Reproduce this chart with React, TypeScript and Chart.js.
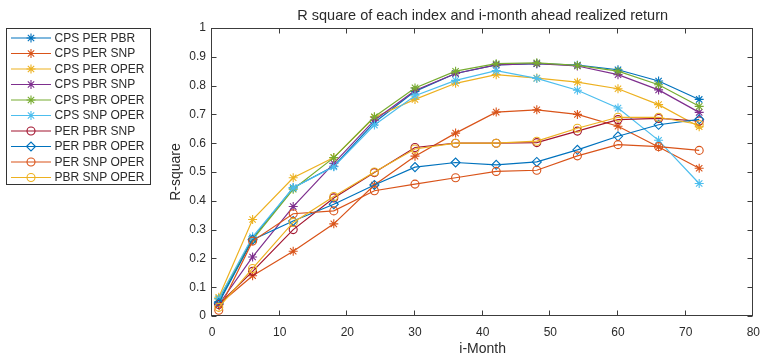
import { useEffect, useRef } from "react";
import { Chart, registerables } from "chart.js";
import { drawPoint } from "chart.js/helpers";

Chart.register(...registerables);

// Forecast horizon (months ahead)
const months = [1, 6, 12, 18, 24, 30, 36, 42, 48, 54, 60, 66, 72];

const seriesLabels = [
  "CPS PER PBR",
  "CPS PER SNP",
  "CPS PER OPER",
  "CPS PBR SNP",
  "CPS PBR OPER",
  "CPS SNP OPER",
  "PER PBR SNP",
  "PER PBR OPER",
  "PER SNP OPER",
  "PBR SNP OPER",
];

const cpsPerPbr = [0.05, 0.27, 0.445, 0.52, 0.672, 0.78, 0.842, 0.872, 0.876, 0.871, 0.855, 0.816, 0.752];
const cpsPerSnp = [0.04, 0.14, 0.225, 0.32, 0.455, 0.555, 0.635, 0.708, 0.716, 0.7, 0.659, 0.587, 0.513];
const cpsPerOper = [0.065, 0.335, 0.48, 0.55, 0.69, 0.752, 0.808, 0.838, 0.826, 0.812, 0.789, 0.734, 0.657];
const cpsPbrSnp = [0.04, 0.205, 0.38, 0.53, 0.68, 0.783, 0.842, 0.872, 0.876, 0.868, 0.838, 0.785, 0.707];
const cpsPbrOper = [0.06, 0.265, 0.44, 0.55, 0.692, 0.792, 0.85, 0.876, 0.879, 0.87, 0.85, 0.803, 0.728];
const cpsSnpOper = [0.06, 0.275, 0.445, 0.518, 0.663, 0.765, 0.818, 0.852, 0.825, 0.784, 0.722, 0.61, 0.46];
const perPbrSnp = [0.04, 0.155, 0.3, 0.41, 0.498, 0.585, 0.6, 0.6, 0.602, 0.642, 0.682, 0.686, 0.677];
const perPbrOper = [0.045, 0.265, 0.33, 0.388, 0.455, 0.517, 0.533, 0.525, 0.535, 0.577, 0.624, 0.664, 0.683];
const perSnpOper = [0.02, 0.26, 0.355, 0.365, 0.435, 0.458, 0.48, 0.502, 0.506, 0.556, 0.595, 0.588, 0.575];
const pbrSnpOper = [0.03, 0.165, 0.325, 0.415, 0.5, 0.58, 0.6, 0.6, 0.607, 0.652, 0.69, 0.69, 0.665];

const seriesValues = [
  cpsPerPbr, cpsPerSnp, cpsPerOper, cpsPbrSnp, cpsPbrOper,
  cpsSnpOper, perPbrSnp, perPbrOper, perSnpOper, pbrSnpOper,
];

const seriesColors = [
  "#0072BD", "#D95319", "#EDB120", "#7E2F8E", "#77AC30",
  "#4DBEEE", "#A2142F", "#0072BD", "#D95319", "#EDB120",
];

const seriesMarkers = [
  "star", "star", "star", "star", "star",
  "star", "circle", "rectRot", "circle", "circle",
];

const xTicks = [0, 10, 20, 30, 40, 50, 60, 70, 80];
const yTicks = [0, 0.1, 0.2, 0.3, 0.4, 0.5, 0.6, 0.7, 0.8, 0.9, 1];

const chartTitle = "R square of each index and i-month ahead realized return";
const xTitle = "i-Month";
const yTitle = "R-square";

const FONT = "'Liberation Sans', Arial, Helvetica, sans-serif";
const AXIS = "#3c3c3c";
const TEXT = "#2b2b2b";

const markerRadius = (style: string) => (style === "star" ? 4.5 : style === "rectRot" ? 4.5 : 4);

// Axes box with inward ticks, title and the boxed legend on the left.
const framePlugin = {
  id: "frame",
  afterDatasetsDraw(chart: any) {
    const { ctx, chartArea: a, scales } = chart;
    const L = Math.round(a.left) - 0.5;
    const R = Math.round(a.right) - 0.5;
    const T = Math.round(a.top) + 0.5;
    const B = Math.round(a.bottom) - 0.5;
    const tick = 5;
    ctx.save();
    ctx.strokeStyle = AXIS;
    ctx.lineWidth = 1;
    ctx.strokeRect(L, T, R - L, B - T);
    ctx.beginPath();
    for (const v of xTicks) {
      const x = Math.round(scales.x.getPixelForValue(v)) - 0.5;
      ctx.moveTo(x, B);
      ctx.lineTo(x, B - tick);
      ctx.moveTo(x, T);
      ctx.lineTo(x, T + tick);
    }
    for (const v of yTicks) {
      const y = Math.round(scales.y.getPixelForValue(v)) + 0.5;
      ctx.moveTo(L, y);
      ctx.lineTo(L + tick, y);
      ctx.moveTo(R, y);
      ctx.lineTo(R - tick, y);
    }
    ctx.stroke();

    // title centred over the plot area
    ctx.fillStyle = TEXT;
    ctx.font = `14.5px ${FONT}`;
    ctx.textAlign = "center";
    ctx.textBaseline = "middle";
    ctx.fillText(chartTitle, (a.left + a.right) / 2, 16);

    // legend
    const bx = 6.5, by = 28.5, bw = 144, bh = 156;
    ctx.fillStyle = "#ffffff";
    ctx.fillRect(bx, by, bw, bh);
    ctx.strokeStyle = "#333333";
    ctx.strokeRect(bx, by, bw, bh);
    ctx.font = `12px ${FONT}`;
    ctx.textAlign = "left";
    ctx.textBaseline = "middle";
    seriesLabels.forEach((label, i) => {
      const y = 38 + i * 15.5;
      ctx.strokeStyle = seriesColors[i];
      ctx.fillStyle = "rgba(0,0,0,0)";
      ctx.lineWidth = 1.2;
      ctx.beginPath();
      ctx.moveTo(11, y);
      ctx.lineTo(51, y);
      ctx.stroke();
      ctx.lineWidth = 1.1;
      drawPoint(
        ctx,
        {
          pointStyle: seriesMarkers[i],
          radius: markerRadius(seriesMarkers[i]),
          rotation: 0,
          borderWidth: 1.1,
        } as any,
        31,
        y
      );
      ctx.fillStyle = TEXT;
      ctx.fillText(label, 54.5, y + 0.5);
    });
    ctx.restore();
  },
};

export default function App() {
  const canvasRef = useRef<HTMLCanvasElement | null>(null);

  useEffect(() => {
    const canvas = canvasRef.current;
    if (!canvas) return;

    const datasets = seriesLabels.map((label, i) => ({
      label,
      data: months.map((m, k) => ({ x: m, y: seriesValues[i][k] })),
      borderColor: seriesColors[i],
      backgroundColor: "rgba(0,0,0,0)",
      pointBorderColor: seriesColors[i],
      pointBackgroundColor: "rgba(0,0,0,0)",
      pointStyle: seriesMarkers[i],
      pointRadius: markerRadius(seriesMarkers[i]),
      pointBorderWidth: 1.1,
      borderWidth: 1.2,
      tension: 0,
      fill: false,
      order: seriesLabels.length - i,
    }));

    const chart = new Chart(canvas, {
      type: "line",
      data: { datasets },
      options: {
        animation: false,
        responsive: false,
        events: [],
        layout: { padding: { left: 150, right: 12, top: 28, bottom: 0 } },
        plugins: {
          legend: { display: false },
          tooltip: { enabled: false },
          title: { display: false },
        },
        scales: {
          x: {
            type: "linear",
            min: 0,
            max: 80,
            afterBuildTicks: (s: any) => {
              s.ticks = xTicks.map((v) => ({ value: v }));
            },
            afterFit: (s: any) => {
              s.height = 43;
            },
            grid: { display: false, drawTicks: false },
            border: { display: false },
            ticks: {
              padding: 9,
              color: TEXT,
              font: { family: FONT, size: 12 },
              maxRotation: 0,
              autoSkip: false,
              callback: (v: any) => String(v),
            },
            title: {
              display: true,
              text: xTitle,
              color: TEXT,
              font: { family: FONT, size: 14 },
              padding: { top: 0, bottom: 1 },
            },
          },
          y: {
            type: "linear",
            min: 0,
            max: 1,
            afterBuildTicks: (s: any) => {
              s.ticks = yTicks.map((v) => ({ value: v }));
            },
            afterFit: (s: any) => {
              s.width = 62;
            },
            grid: { display: false, drawTicks: false },
            border: { display: false },
            ticks: {
              padding: 6,
              color: TEXT,
              font: { family: FONT, size: 12 },
              autoSkip: false,
              callback: (v: any) => String(Math.round(Number(v) * 10) / 10),
            },
            title: {
              display: true,
              text: yTitle,
              color: TEXT,
              font: { family: FONT, size: 14 },
              padding: { top: 18, bottom: 0 },
            },
          },
        },
      },
      plugins: [framePlugin],
    } as any);

    return () => chart.destroy();
  }, []);

  return (
    <div style={{ position: "absolute", left: 0, top: 0, width: 769, height: 359, background: "#ffffff" }}>
      <canvas ref={canvasRef} width={769} height={359} style={{ display: "block" }} />
    </div>
  );
}
